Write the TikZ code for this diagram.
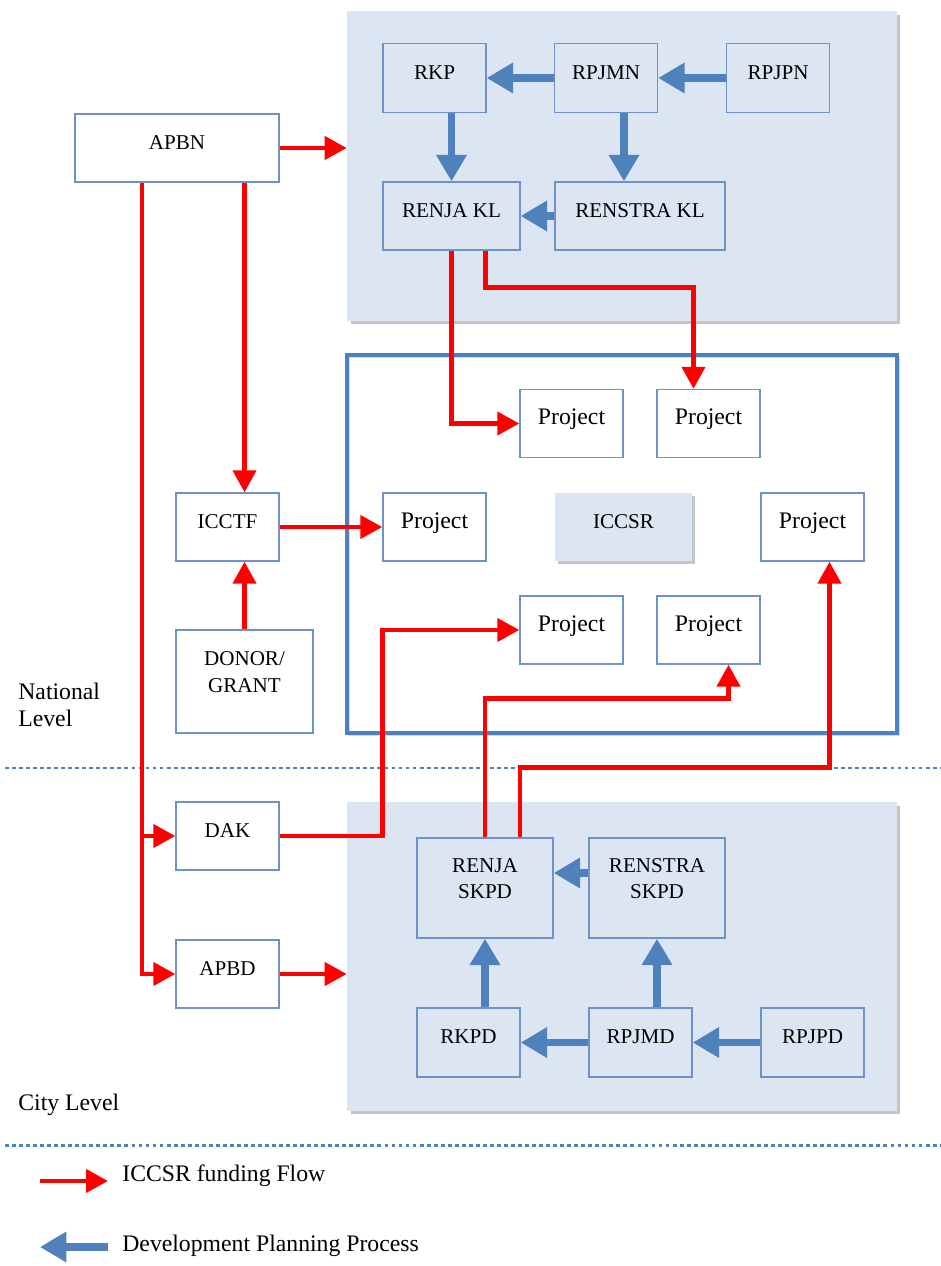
\documentclass[tikz,border=0pt]{standalone}
\usepackage{fontspec}
\setmainfont{Liberation Serif}
\usetikzlibrary{arrows.meta}
\usetikzlibrary{shadows}
\definecolor{cpanel}{RGB}{220, 230, 242}
\definecolor{cline}{RGB}{110, 146, 200}
\definecolor{cblue}{RGB}{79, 129, 189}
\definecolor{cred}{RGB}{255, 0, 0}

\tikzset{
  box/.style={draw=cline, fill=white, line width=0.8pt, inner sep=0pt,
    minimum width=2.06cm, minimum height=1.38cm, font=\fontsize{12}{15}\selectfont},
  onebox/.style={box, text height=8pt, text depth=6.5pt},
  twobox/.style={box, align=center, text depth=10.8pt},
  inbox/.style={onebox, fill=cpanel},
  panel/.style={fill=cpanel, minimum width=11cm, inner sep=0pt,
    drop shadow={shadow xshift=2pt, shadow yshift=-2pt, fill=black!45, opacity=0.5}},
  projbox/.style={draw=cblue, line width=1.8pt, minimum width=11cm, inner sep=0pt,
    drop shadow={shadow xshift=1.2pt, shadow yshift=-1.2pt, fill=none, draw=black!15, line width=1.4pt, opacity=1}},
  levelline/.style={draw=cblue, line width=1.7pt, dash pattern=on 2.2pt off 1.8pt},
  fund/.style={draw=cred, line width=2.6pt, -{Triangle[length=12.5pt, width=13pt]}},
  plan/.style={draw=cblue, line width=4.2pt, -{Triangle[length=15pt, width=16.5pt]}},
  lgd/.style={inner sep=0pt, font=\fontsize{13.5}{15}\selectfont},
}

\begin{document}
\begin{tikzpicture}[x=0.02cm, y=-0.02cm]
\useasboundingbox (0, 0) rectangle (940, 1266);

% panels
\node [panel, minimum height=6.2cm] (natpanel) at (622, 166) {};
\node [projbox, minimum height=7.56cm] (projframe) at (622, 544) {};
\node [panel, minimum height=6.18cm] (citypanel) at (622, 956.5) {};

% level separators
\draw [levelline] (5, 768) -- (940, 768);
\draw [levelline] (5, 1145) -- (940, 1145);

% level labels
\node [lgd, anchor=west, align=left] (natlabel) at (18, 705) {National\\Level};
\node [lgd, anchor=west] (citylabel) at (18, 1105) {City Level};

% national planning
\node [inbox] (rkp) at (434.5, 78) {RKP};
\node [inbox] (rpjmn) at (606, 78) {RPJMN};
\node [inbox] (rpjpn) at (778, 78) {RPJPN};
\node [inbox, minimum width=2.74cm, minimum height=1.36cm] (renjakl) at (451.5, 216) {RENJA KL};
\node [inbox, minimum width=3.4cm, minimum height=1.36cm] (renstrakl) at (640, 216) {RENSTRA KL};

% funding sources
\node [onebox, minimum width=4.08cm, minimum height=1.36cm] (apbn) at (177, 148) {APBN};
\node [onebox, minimum height=1.36cm] (icctf) at (227.5, 527) {ICCTF};
\node [twobox, minimum width=2.74cm, minimum height=2.06cm] (donor) at (244.5, 681.5) {DONOR/\\GRANT};
\node [onebox, minimum height=1.36cm] (dak) at (227.5, 836) {DAK};
\node [onebox, minimum height=1.36cm] (apbd) at (227.5, 974) {APBD};

% projects
\foreach \name/\x/\y in {p1/571.5/423.5, p2/708.5/423.5, p3/434.5/527,
                         p4/812.5/527, p5/571.5/630, p6/708.5/630} {
    \node [onebox, minimum height=1.36cm, font=\fontsize{13.5}{15}\selectfont] (\name) at (\x, \y) {Project};
}
\node [onebox, draw=none, fill=cpanel, minimum width=2.74cm, minimum height=1.36cm,
  drop shadow={shadow xshift=1.5pt, shadow yshift=-1.5pt, fill=black!45, opacity=0.5}] (iccsr) at (623.5, 527) {ICCSR};

% city planning
\node [twobox, fill=cpanel, minimum width=2.72cm, minimum height=2cm] (renjaskpd) at (485, 888) {RENJA\\SKPD};
\node [twobox, fill=cpanel, minimum width=2.72cm, minimum height=2cm] (renstraskpd) at (657, 888) {RENSTRA\\SKPD};
\node [inbox] (rkpd) at (468.5, 1042.5) {RKPD};
\node [inbox] (rpjmd) at (640.5, 1042.5) {RPJMD};
\node [inbox] (rpjpd) at (812.5, 1042.5) {RPJPD};

% planning process
\draw [plan] (rpjmn) -- (rkp);
\draw [plan] (rpjpn) -- (rpjmn);
\draw [plan] (rkp.south -| renjakl) -- (renjakl.north);
\coordinate (s1) at ([xshift=0.36cm]rpjmn.south);
\draw [plan] (s1) -- (s1 |- renstrakl.north);
\draw [plan] (renstrakl) -- (renjakl);

\coordinate (s2) at ([yshift=0.3cm]renstraskpd.west);
\draw [plan] (s2) -- (s2 -| renjaskpd.east);
\draw [plan] (rkpd.north -| renjaskpd) -- (renjaskpd.south);
\draw [plan] (rpjmd.north -| renstraskpd) -- (renstraskpd.south);
\draw [plan] (rpjmd) -- (rkpd);
\draw [plan] (rpjpd) -- (rpjmd);

% funding flow
\draw [fund] (apbn.east) -- (apbn.east -| natpanel.west);
\draw [fund] (apbn.south -| donor) -- (icctf.north -| donor);
\draw [fund] (donor.north) -- (icctf.south -| donor);
\draw [fund] (icctf) -- (p3);
\coordinate (trunk) at ([xshift=-0.7cm]apbn.south);
\draw [fund] (trunk) |- (apbd.west);
\draw [fund] (trunk |- dak.west) -- (dak.west);
\draw [fund] (apbd.east) -- (apbd.east -| citypanel.west);

\draw [fund] (renjakl.south) |- (p1.west);
\coordinate (k2) at ([xshift=0.68cm]renjakl.south);
\coordinate (p2in) at ([xshift=-0.3cm]p2.north);
\draw [fund] (k2) -- ++(0, 37) -| (p2in);

\draw [fund] (dak.east) -- ++(103, 0) |- (p5.west);
\coordinate (p6in) at ([xshift=0.4cm]p6.south);
\draw [fund] (renjaskpd.north) -- ++(0, -139) -| (p6in);
\coordinate (k4) at ([xshift=0.7cm]renjaskpd.north);
\coordinate (p4in) at ([xshift=0.34cm]p4.south);
\draw [fund] (k4) -- ++(0, -70) -| (p4in);

% legend
\coordinate (fundfrom) at (40, 1181);
\coordinate (fundto) at (108, 1181);
\draw [fund] (fundfrom) -- (fundto);
\node [lgd, anchor=west] (fundtext) at (122, 1176) {ICCSR funding Flow};
\coordinate (planfrom) at (108, 1247);
\coordinate (planto) at (40, 1247);
\draw [plan] (planfrom) -- (planto);
\node [lgd, anchor=west] (plantext) at (122, 1245.5) {Development Planning Process};

\end{tikzpicture}
\end{document}
